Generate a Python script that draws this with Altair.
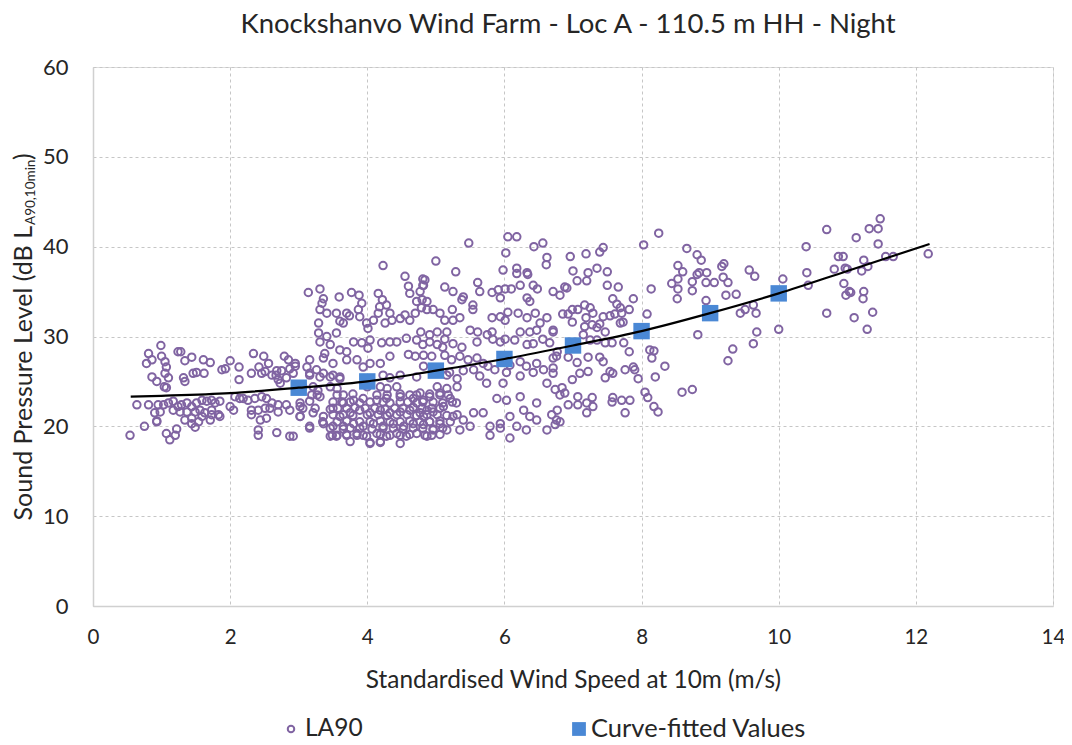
import altair as alt
import pandas as pd

# ---------------- data ----------------
title_text = "Knockshanvo Wind Farm - Loc A - 110.5 m HH - Night"
x_title = "Standardised Wind Speed at 10m (m/s)"
x_ticks = [0, 2, 4, 6, 8, 10, 12, 14]
y_ticks = [0, 10, 20, 30, 40, 50, 60]

# LA90 measurements (wind speed m/s, dB) grouped by wind-speed range
la90_low = [
    (0.99, 29.0), (0.81, 28.1), (0.78, 27.0), (0.86, 27.4), (1.0, 27.8), (1.05, 27.2), (1.07, 26.6),
    (1.24, 28.3), (1.28, 28.3), (1.34, 27.3), (1.44, 27.7), (1.61, 27.4), (1.71, 27.1), (2.0, 27.3),
    (2.13, 26.6), (2.34, 28.1), (2.49, 27.8), (2.42, 26.6), (2.56, 27.0), (2.51, 26.1), (2.31, 25.9),
    (2.79, 27.8), (2.85, 27.4), (2.95, 26.7), (2.87, 26.4), (2.68, 26.2), (2.75, 26.2), (2.61, 25.7),
    (0.86, 25.5), (0.93, 25.0), (1.05, 25.9), (1.1, 25.4), (1.04, 24.4), (1.07, 24.3), (1.32, 25.4),
    (1.34, 25.0), (1.46, 25.9), (1.51, 26.0), (1.62, 25.9), (1.88, 26.3), (1.93, 26.4), (2.13, 25.2),
    (2.46, 25.9), (2.67, 25.7), (2.7, 25.2), (2.73, 24.8), (2.82, 25.4),
    (0.64, 22.4), (0.81, 22.4), (0.95, 22.4), (1.03, 22.4), (1.1, 22.6), (1.17, 22.8), (1.24, 22.2),
    (1.29, 22.4), (1.37, 22.6), (1.44, 22.2), (1.51, 22.6), (1.59, 22.9), (1.66, 22.8), (1.73, 22.9),
    (1.78, 22.6), (1.85, 22.8), (2.0, 22.2), (2.07, 23.3), (2.14, 23.1), (2.19, 23.1), (2.26, 22.9),
    (2.36, 23.1), (2.46, 23.3), (2.53, 23.1), (2.61, 22.6), (2.7, 22.4), (2.82, 22.4), (3.02, 22.6),
    (0.9, 21.5), (0.98, 21.6), (1.17, 21.8), (1.27, 21.6), (1.37, 21.6), (1.49, 21.6), (1.56, 21.8),
    (1.63, 21.5), (1.73, 21.8), (1.83, 21.3), (1.85, 21.1), (2.31, 21.8), (2.41, 21.8), (2.51, 22.0),
    (2.58, 22.0), (2.7, 21.6), (2.87, 21.8), (3.02, 21.1), (0.93, 20.5), (1.34, 20.7), (1.44, 20.9),
    (1.54, 20.5), (1.59, 21.1), (1.71, 20.7), (1.73, 21.3), (2.05, 21.8), (2.31, 21.3), (2.44, 20.7),
    (2.53, 20.9), (0.54, 19.0), (0.75, 20.0), (0.93, 20.6), (1.07, 19.2), (1.12, 18.5), (1.2, 19.0),
    (1.22, 19.7), (1.49, 19.9), (1.44, 20.3), (2.41, 19.6), (2.41, 19.0), (2.68, 19.3), (2.87, 18.9),
]

la90_3_to_5 = [
    (4.55, 36.7), (4.6, 35.6), (4.62, 34.8), (4.77, 35.0), (4.72, 33.9), (4.82, 35.7), (4.84, 36.3),
    (3.14, 34.9), (3.31, 35.3), (3.36, 34.2), (3.34, 33.7), (3.59, 34.4), (3.77, 34.9), (3.88, 34.6),
    (3.92, 33.7), (3.87, 33.0), (3.7, 32.6), (3.55, 32.6), (3.41, 32.6), (3.31, 33.0), (3.29, 31.5),
    (3.6, 31.7), (3.65, 31.5), (3.74, 32.3), (3.89, 32.2), (3.99, 31.5), (4.01, 30.9), (4.23, 37.9),
    (4.16, 34.8), (4.22, 34.1), (4.18, 33.3), (4.28, 33.5), (4.33, 32.6), (4.16, 32.6), (4.09, 31.8),
    (4.26, 31.5), (4.36, 31.8), (4.48, 32.0), (4.55, 32.4), (4.62, 31.8), (4.7, 32.6), (4.79, 33.2),
    (4.87, 33.9), (3.29, 30.4), (3.31, 29.4), (3.41, 30.0), (3.55, 30.4), (3.46, 29.1), (3.38, 28.1),
    (3.36, 27.6), (3.6, 28.5), (3.7, 28.3), (3.8, 29.4), (3.92, 29.3), (4.04, 29.6), (4.01, 28.7),
    (4.21, 29.3), (4.33, 29.4), (4.43, 29.4), (4.57, 29.8), (4.72, 29.6), (4.6, 28.0), (4.7, 27.8),
    (4.33, 27.8), (4.19, 27.0), (4.04, 27.0), (3.94, 26.6), (3.85, 27.4), (3.7, 27.4), (3.5, 27.0),
    (3.16, 27.4), (3.12, 26.6), (3.16, 25.9), (3.26, 26.3), (3.36, 25.9), (3.46, 25.5), (3.6, 25.5),
    (2.95, 27.0), (2.92, 25.9),
    (3.02, 22.2), (3.16, 22.8), (3.31, 23.3), (3.21, 21.5), (3.02, 21.1), (3.36, 21.1), (3.5, 22.0),
    (3.65, 22.6), (3.8, 22.9), (3.94, 23.1), (4.14, 22.9), (4.28, 23.1), (4.48, 23.3), (4.67, 23.1),
    (4.82, 22.9), (3.6, 21.1), (3.75, 21.5), (3.89, 21.8), (4.04, 21.5), (4.19, 21.8), (4.33, 21.5),
    (4.48, 21.6), (4.62, 21.8), (4.77, 21.5), (4.87, 21.8), (3.5, 20.0), (3.65, 20.0), (3.8, 20.3),
    (3.94, 20.0), (4.09, 20.3), (4.23, 20.0), (4.38, 20.3), (4.53, 20.0), (4.67, 20.3), (4.82, 20.2),
    (3.55, 18.9), (3.7, 19.0), (3.85, 19.2), (3.99, 18.9), (4.14, 19.2), (4.28, 18.9), (4.43, 19.2),
    (4.57, 18.9), (4.72, 19.2), (4.87, 18.9), (3.46, 18.9), (3.75, 18.3), (4.04, 18.1), (4.19, 18.3),
    (4.48, 18.1), (3.16, 20.0), (2.92, 18.9), (3.36, 20.3),
]

# dense cluster below the curve, 3-5.4 m/s
la90_dense_cluster = [
    (3.16, 25.7), (3.31, 25.5), (3.5, 25.7), (3.6, 25.3), (4.23, 25.7), (4.33, 25.4), (4.48, 25.7),
    (4.72, 25.5), (5.16, 25.7), (5.31, 25.3),
    (3.06, 24.4), (3.21, 24.4), (3.28, 24.0), (3.46, 24.4), (3.56, 24.2), (4.0, 24.4), (4.19, 24.4),
    (4.29, 24.2), (4.43, 24.4), (5.02, 24.4), (5.16, 24.2), (5.31, 24.4),
    (3.19, 23.5), (3.27, 23.5), (3.56, 23.5), (3.65, 23.5), (3.79, 23.6), (4.14, 23.5), (4.29, 23.5),
    (4.48, 23.6), (4.62, 23.5), (4.72, 23.5), (4.91, 23.6), (5.06, 23.5), (5.18, 23.5),
    (3.5, 22.7), (3.63, 22.7), (3.75, 22.7), (3.89, 22.6), (4.04, 22.7), (4.23, 22.7), (4.33, 22.6),
    (4.48, 22.7), (4.59, 22.7), (4.72, 22.6), (4.81, 22.7), (4.96, 22.7), (5.1, 22.6), (5.24, 22.7),
    (3.06, 22.0), (3.24, 22.0), (3.46, 21.9), (3.57, 22.0), (3.7, 22.0), (3.82, 22.1), (3.97, 22.0),
    (4.11, 22.0), (4.26, 21.9), (4.4, 22.0), (4.52, 22.0), (4.67, 22.1), (4.8, 22.0), (4.94, 22.0),
    (5.06, 22.0),
    (3.5, 21.3), (3.65, 21.3), (3.79, 21.2), (4.0, 21.3), (4.16, 21.3), (4.29, 21.2), (4.43, 21.3),
    (4.58, 21.3), (4.72, 21.2), (4.87, 21.3), (5.02, 21.3), (5.16, 21.2), (5.31, 21.3),
    (3.35, 20.5), (3.56, 20.5), (3.7, 20.6), (3.89, 20.5), (4.04, 20.5), (4.19, 20.6), (4.33, 20.5),
    (4.48, 20.5), (4.62, 20.6), (4.77, 20.5), (4.91, 20.5), (5.06, 20.6), (5.21, 20.5),
    (3.16, 19.8), (3.46, 19.8), (3.65, 19.7), (3.75, 19.8), (3.89, 19.8), (4.07, 19.7), (4.23, 19.8),
    (4.38, 19.8), (4.52, 19.7), (4.67, 19.8), (4.81, 19.8), (4.96, 19.7), (5.1, 19.8),
    (3.49, 19.0), (3.56, 19.0), (3.7, 19.1), (3.85, 19.0), (3.94, 19.0), (4.19, 19.1), (4.33, 19.0),
    (4.48, 19.0), (4.62, 19.1), (4.84, 19.0), (4.94, 19.0), (5.06, 19.1), (4.04, 18.2), (4.19, 18.2),
]

la90_5_to_7 = [
    (5.48, 40.4), (6.05, 41.1), (6.18, 41.1), (6.43, 40.0), (6.56, 40.4), (6.02, 39.3), (6.62, 38.8),
    (6.61, 38.0), (5.0, 38.4), (5.29, 37.2), (5.98, 37.4), (6.18, 37.6), (6.18, 37.0), (6.33, 37.1),
    (4.81, 36.4), (4.81, 35.7), (5.13, 35.5), (5.25, 35.0), (5.4, 34.4), (5.38, 34.1), (5.61, 36.0),
    (5.64, 35.0), (5.82, 34.9), (5.91, 35.2), (6.01, 35.3), (6.1, 35.3), (5.94, 34.3), (6.23, 35.7),
    (6.34, 36.9), (6.42, 35.7), (6.48, 35.3), (6.33, 34.3), (6.37, 33.9), (6.71, 35.0), (4.8, 34.1),
    (4.87, 33.0), (4.96, 33.0), (5.06, 32.6), (5.13, 31.8), (5.24, 33.0), (5.25, 31.8), (5.35, 32.1),
    (5.54, 33.5), (5.54, 33.0), (5.82, 32.1), (5.94, 32.2), (6.05, 32.7), (6.01, 31.8), (6.2, 32.6),
    (6.33, 32.1), (6.45, 32.6), (6.62, 32.1), (6.52, 31.5),
    (4.78, 30.5), (4.91, 30.2), (5.02, 30.5), (5.16, 30.5), (4.91, 29.4), (5.13, 29.7), (5.02, 29.1),
    (5.1, 28.8), (4.81, 29.1), (5.25, 29.2), (5.38, 28.8), (5.5, 30.7), (5.61, 30.5), (5.75, 30.2),
    (5.82, 30.5), (5.6, 29.4), (5.83, 29.7), (5.94, 29.4), (6.01, 29.7), (6.15, 29.6), (6.23, 30.5),
    (6.37, 30.5), (6.47, 30.7), (6.56, 29.7), (6.71, 30.5), (6.42, 29.2), (6.33, 29.1),
    (4.82, 27.9), (4.94, 27.8), (5.13, 27.9), (5.23, 27.4), (5.35, 27.8), (5.47, 27.4), (5.6, 27.6),
    (5.69, 27.0), (5.76, 26.7), (5.86, 26.3), (6.08, 26.8), (6.23, 27.2), (6.32, 26.7), (6.47, 27.0),
    (6.57, 26.3), (6.71, 25.9), (6.76, 27.8), (4.82, 26.7), (4.96, 26.5), (5.2, 26.0), (5.4, 26.2),
    (5.55, 26.3), (5.64, 25.6), (6.03, 26.0), (6.23, 25.6), (6.42, 26.0), (6.62, 24.8), (5.98, 24.8),
    (5.74, 24.8),
    (4.77, 23.7), (4.91, 23.3), (5.06, 23.7), (5.21, 23.1), (5.3, 22.6), (5.11, 22.2), (4.96, 21.6),
    (4.82, 21.1), (4.91, 20.5), (5.06, 20.3), (5.25, 21.1), (5.4, 20.7), (5.55, 21.5), (5.69, 21.5),
    (5.5, 20.0), (5.35, 19.6), (5.16, 19.6), (4.96, 19.6), (5.79, 20.0), (5.94, 20.3), (6.08, 21.1),
    (6.18, 20.0), (6.08, 18.7), (5.94, 19.8), (6.28, 21.8), (6.37, 21.1), (6.47, 22.6), (6.32, 19.6),
    (6.47, 20.7), (6.62, 19.6), (6.76, 20.7), (5.79, 19.0), (6.23, 23.3), (6.03, 22.9), (5.89, 23.1),
]

la90_7_to_9 = [
    (8.25, 41.5), (8.03, 40.2), (8.66, 39.8), (8.81, 39.1), (8.53, 37.9), (8.6, 37.2), (8.53, 36.4),
    (8.44, 35.9), (8.53, 35.3), (8.74, 36.1), (8.74, 35.1), (8.81, 36.9), (8.52, 34.2), (8.82, 30.2),
    (8.59, 23.8), (8.74, 24.1), (8.08, 32.5), (8.14, 35.3), (8.12, 28.5), (8.18, 28.4), (8.15, 27.6),
    (8.34, 26.7), (8.2, 25.5), (8.05, 23.8), (8.09, 23.2), (8.18, 22.2), (8.24, 21.6), (7.95, 25.3),
    (7.88, 26.6), (7.9, 26.3), (7.82, 28.3), (7.74, 29.3), (7.76, 21.5), (7.83, 22.9), (7.71, 22.9),
    (7.58, 23.2), (7.88, 34.2), (7.66, 35.5), (7.5, 35.7), (7.39, 39.4), (7.44, 39.9), (7.19, 39.2),
    (6.96, 38.9), (7.35, 37.6), (7.22, 37.1), (7.0, 37.3), (7.5, 37.2), (7.06, 36.2), (7.2, 36.2),
    (6.88, 35.5), (6.91, 35.4), (6.81, 34.6), (7.58, 34.2), (7.64, 33.6), (7.69, 33.2), (7.71, 32.6),
    (7.82, 33.0), (7.73, 31.6), (7.69, 31.5), (7.61, 32.5), (7.17, 33.5), (7.25, 33.2), (7.07, 33.0),
    (6.99, 33.0), (6.93, 32.5), (6.85, 32.5), (6.99, 31.6), (7.19, 32.1), (7.29, 32.6), (7.44, 32.2),
    (7.54, 32.3), (7.17, 31.1), (7.28, 31.3), (7.35, 31.0), (7.47, 30.5), (7.39, 31.4), (7.15, 30.2),
    (7.25, 29.6), (7.35, 29.6), (7.47, 29.3), (7.57, 29.3), (6.77, 28.3), (6.66, 29.3), (6.71, 30.7),
    (6.71, 27.6), (6.71, 26.5), (6.93, 27.7), (7.22, 27.7), (7.06, 27.1), (7.1, 25.9), (7.22, 26.1),
    (6.99, 25.2), (6.84, 24.3), (6.88, 23.7), (7.39, 27.7), (7.44, 27.2), (7.54, 26.1), (7.47, 25.4),
    (7.58, 25.9), (7.76, 26.3), (7.07, 23.3), (6.93, 22.4), (7.07, 22.4), (7.2, 22.6), (7.28, 23.2),
    (7.29, 22.2), (7.2, 21.5), (7.57, 22.7), (6.74, 24.1), (6.81, 23.5), (6.77, 21.8), (6.81, 20.5),
    (6.74, 20.2), (6.69, 21.3),
]

la90_high = [
    (8.87, 38.5), (9.17, 37.8), (9.2, 38.1), (8.84, 37.1), (8.95, 37.1), (8.94, 36.0), (9.06, 36.0),
    (9.26, 36.0), (9.19, 36.6), (9.57, 37.4), (9.65, 36.7), (9.23, 34.6), (9.38, 34.7), (8.94, 34.0),
    (9.44, 32.6), (9.51, 33.0), (9.63, 33.5), (9.67, 32.6), (9.68, 30.5), (10.0, 30.8), (10.06, 36.4),
    (9.33, 28.6), (9.63, 29.2), (9.26, 27.3), (10.4, 40.0), (10.41, 37.1), (10.43, 35.7), (10.7, 41.9),
    (10.7, 32.6), (10.87, 38.9), (10.94, 38.9), (10.81, 37.5), (10.97, 37.6), (11.0, 37.5), (10.95, 35.9),
    (10.98, 34.6), (11.03, 35.0), (11.05, 34.9), (11.1, 32.1), (11.13, 41.0), (11.24, 38.5), (11.3, 37.8),
    (11.21, 37.3), (11.24, 35.0), (11.23, 34.2), (11.37, 32.7), (11.29, 30.8), (11.32, 42.0), (11.45, 42.0),
    (11.48, 43.1), (11.45, 40.3), (11.56, 38.9), (11.67, 38.9), (12.18, 39.2),
]

# Curve-fitted values (integer wind speeds)
fit_ws = [3, 4, 5, 6, 7, 8, 9, 10]
fit_db = [24.3, 25.0, 26.2, 27.5, 29.0, 30.6, 32.6, 34.8]

# Fitted curve (black line)
curve_ws = [0.55, 1, 2, 3, 4, 5, 6, 7, 8, 9, 10, 11, 12.2]
curve_db = [23.3, 23.4, 23.7, 24.3, 25.0, 26.2, 27.5, 29.0, 30.6, 32.6, 34.8, 37.3, 40.3]

# ---------------- build chart ----------------
FONT = "Lato"
TXT = "#262626"
PURPLE = "#8064A2"
BLUE = "#4A88D5"
W, H = 960, 539

pts = la90_low + la90_3_to_5 + la90_dense_cluster + la90_5_to_7 + la90_7_to_9 + la90_high
df_pts = pd.DataFrame(pts, columns=["ws", "spl"])
df_fit = pd.DataFrame({"ws": fit_ws, "spl": fit_db})
df_curve = pd.DataFrame({"ws": curve_ws, "spl": curve_db})

xs = alt.Scale(domain=[0, 14], nice=False)
ys = alt.Scale(domain=[0, 60], nice=False)

x_axis = alt.Axis(values=x_ticks, format="d", title=x_title, grid=True, gridDash=[3, 3],
                  gridColor="#c6c6c6", domainColor="#d0d0d0", domainWidth=1.5, tickSize=0,
                  labelPadding=21, labelFontSize=20.5, labelFont=FONT, labelColor=TXT,
                  titleFont=FONT, titleFontSize=24.4, titleFontWeight="normal", titleColor=TXT,
                  titlePadding=21, labelFlush=False)
y_axis = alt.Axis(values=y_ticks, format="d", title=None, grid=True, gridDash=[3, 3],
                  gridColor="#c6c6c6", domainColor="#d0d0d0", domainWidth=1.5, tickSize=0,
                  labelPadding=25, labelFontSize=22, labelFont=FONT, labelColor=TXT,
                  labelFlush=False)

scatter = alt.Chart(df_pts).mark_point(shape="circle", filled=False, stroke=PURPLE,
                                       strokeWidth=2, size=56, opacity=1).encode(
    x=alt.X("ws:Q", scale=xs, axis=x_axis),
    y=alt.Y("spl:Q", scale=ys, axis=y_axis),
)

squares = alt.Chart(df_fit).mark_square(color=BLUE, size=270, opacity=1).encode(
    x=alt.X("ws:Q", scale=xs), y=alt.Y("spl:Q", scale=ys))

curve = alt.Chart(df_curve).mark_line(color="black", strokeWidth=2.2, interpolate="monotone").encode(
    x=alt.X("ws:Q", scale=xs), y=alt.Y("spl:Q", scale=ys))

one = pd.DataFrame({"a": [0]})

title = alt.Chart(one).mark_text(text=title_text, font=FONT, fontSize=27.5, color=TXT,
                                  align="center", baseline="middle").encode(
    x=alt.value(475), y=alt.value(-42))

# y-axis title with subscript, built from three pieces (rotated, reading upward)
Y_JOIN = 159  # where "L" ends and the subscript starts (plot coordinates)
ytitle_main = alt.Chart(one).mark_text(text="Sound Pressure Level (dB L", font=FONT, fontSize=25,
                                        color=TXT, angle=270, align="right", baseline="middle").encode(
    x=alt.value(-69), y=alt.value(Y_JOIN))
ytitle_sub = alt.Chart(one).mark_text(text="A90,10min", font=FONT, fontSize=13.5, color=TXT, angle=270,
                                       align="left", baseline="middle").encode(
    x=alt.value(-62), y=alt.value(Y_JOIN - 1))
ytitle_end = alt.Chart(one).mark_text(text=")", font=FONT, fontSize=25, color=TXT, angle=270,
                                       align="left", baseline="middle").encode(
    x=alt.value(-69), y=alt.value(Y_JOIN - 66))

leg_circle = alt.Chart(one).mark_point(shape="circle", filled=False, stroke=PURPLE,
                                       strokeWidth=2, size=42, opacity=1).encode(
    x=alt.value(198), y=alt.value(662))
leg_text1 = alt.Chart(one).mark_text(text="LA90", font=FONT, fontSize=24.5, color=TXT,
                                      align="left", baseline="middle").encode(
    x=alt.value(212), y=alt.value(662))
leg_square = alt.Chart(one).mark_square(color=BLUE, size=190, opacity=1).encode(
    x=alt.value(486), y=alt.value(662))
leg_text2 = alt.Chart(one).mark_text(text="Curve-fitted Values", font=FONT, fontSize=25.5, color=TXT,
                                      align="left", baseline="middle").encode(
    x=alt.value(498), y=alt.value(662))

chart = alt.layer(
    scatter, squares, curve, title, ytitle_main, ytitle_sub, ytitle_end,
    leg_circle, leg_text1, leg_square, leg_text2,
).properties(
    width=W, height=H,
    autosize=alt.AutoSizeParams(type="none"),
    padding={"left": 85, "top": 59, "right": 11, "bottom": 136},
).configure_view(strokeWidth=0).configure(background="white")

chart.save("out.html", embed_options={"renderer": "svg", "actions": False})
